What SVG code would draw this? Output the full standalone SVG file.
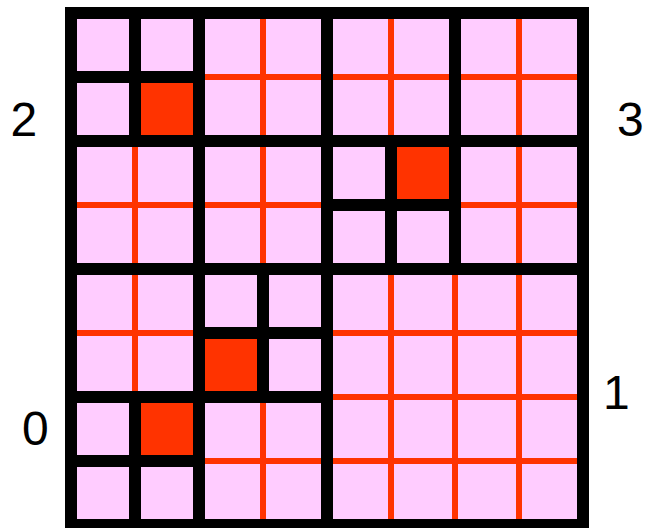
<svg xmlns="http://www.w3.org/2000/svg" width="646" height="528" viewBox="0 0 646 528">
<style>
.bg{fill:#FFCCFF}
.cell{fill:#FF3300}
.rl{stroke:#FF3300;stroke-width:6;fill:none}
.bl{stroke:#000;stroke-width:12;fill:none;stroke-linecap:square}
.lbl{font-family:"Liberation Sans",Arial,sans-serif;font-size:48px;fill:#000}
</style>
<rect x="0" y="0" width="646" height="528" fill="#fff"/>
<g id="grid">
<rect class="bg" x="71" y="13" width="512" height="512"/>
</g>
<g id="filled-cells">
<rect id="cell-1-1" class="cell" x="141" y="83" width="52" height="52"/>
<rect id="cell-5-2" class="cell" x="397" y="147" width="52" height="52"/>
<rect id="cell-2-5" class="cell" x="205" y="339" width="52" height="52"/>
<rect id="cell-1-6" class="cell" x="141" y="403" width="52" height="52"/>
</g>
<g id="connectors">
<g id="red-lines">
<path class="rl" d="M135 13V525M199 13V525M263 13V525M327 13V525M391 13V525M455 13V525M519 13V525"/>
<path class="rl" d="M71 77H583M71 141H583M71 205H583M71 269H583M71 333H583M71 397H583M71 461H583"/>
</g>
<g id="black-lines">
<rect class="bl" x="71" y="13" width="512" height="512"/>
<path class="bl" d="M327 13V525M71 269H583M71 141H583M199 13V525M455 13V269M71 397H327"/>
<path class="bl" d="M135 13V141M71 77H199"/>
<path class="bl" d="M391 141V269M327 205H455"/>
<path class="bl" d="M263 269V397M199 333H327"/>
<path class="bl" d="M135 397V525M71 461H199"/>
</g>
</g>
<g id="labels">
<text class="lbl" x="10.5" y="136">2</text>
<text class="lbl" x="617" y="136">3</text>
<text class="lbl" x="22" y="445">0</text>
<text class="lbl" x="603" y="409">1</text>
</g>
</svg>
